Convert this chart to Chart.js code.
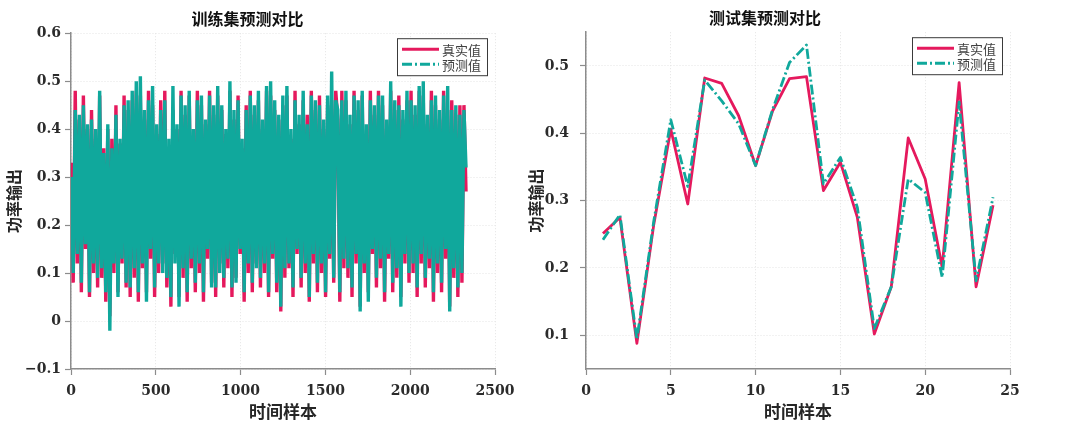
<!DOCTYPE html>
<html>
<head>
<meta charset="utf-8">
<script src="https://cdn.jsdelivr.net/npm/chart.js@4.4.1/dist/chart.umd.min.js"></script>
<style>
  html, body { margin: 0; padding: 0; background: #fff; }
  body { width: 1080px; height: 424px; position: relative; overflow: hidden; }
  canvas { position: absolute; top: 0; }
  #trainChart { left: 0; }
  #testChart { left: 520px; }
</style>
</head>
<body>
<canvas id="trainChart" width="540" height="424"></canvas>
<canvas id="testChart" width="560" height="424"></canvas>
<script>
/* ─── DATA ─── */
const SERIES_NAMES = ['真实值', '预测值'];

// training set, one value every 12 samples (1 … 2329)
const trainTrue = [
  0.33, 0.08, 0.48, 0.12, 0.42, 0.06, 0.47, 0.15, 0.40, 0.05, 0.44, 0.10, 0.38, 0.07, 0.47,
  0.09, 0.36, 0.04, 0.40, 0.01, 0.38, 0.10, 0.45, 0.06, 0.37, 0.12, 0.47, 0.07, 0.44, 0.05,
  0.46, 0.09, 0.48, 0.04, 0.47, 0.11, 0.42, 0.06, 0.48, 0.13, 0.45, 0.05, 0.39, 0.10, 0.46,
  0.12, 0.48, 0.07, 0.36, 0.03, 0.44, 0.14, 0.40, 0.05, 0.48, 0.09, 0.43, 0.04, 0.47, 0.11,
  0.38, 0.06, 0.48, 0.10, 0.45, 0.04, 0.41, 0.13, 0.48, 0.08, 0.43, 0.05, 0.47, 0.12, 0.44,
  0.07, 0.39, 0.11, 0.48, 0.05, 0.42, 0.09, 0.47, 0.14, 0.36, 0.04, 0.45, 0.10, 0.48, 0.06,
  0.43, 0.12, 0.46, 0.07, 0.40, 0.10, 0.48, 0.05, 0.47, 0.13, 0.44, 0.06, 0.42, 0.02, 0.45,
  0.09, 0.47, 0.11, 0.38, 0.05, 0.48, 0.14, 0.41, 0.07, 0.46, 0.10, 0.43, 0.04, 0.48, 0.12,
  0.44, 0.06, 0.47, 0.10, 0.40, 0.05, 0.45, 0.13, 0.46, 0.08, 0.48, 0.42, 0.04, 0.48, 0.11,
  0.46, 0.09, 0.41, 0.05, 0.48, 0.12, 0.44, 0.03, 0.47, 0.10, 0.39, 0.06, 0.48, 0.14, 0.43,
  0.07, 0.48, 0.11, 0.45, 0.04, 0.40, 0.13, 0.48, 0.06, 0.44, 0.09, 0.47, 0.05, 0.42, 0.12,
  0.46, 0.08, 0.48, 0.10, 0.43, 0.05, 0.48, 0.12, 0.47, 0.07, 0.41, 0.11, 0.48, 0.04, 0.45,
  0.10, 0.42, 0.06, 0.48, 0.13, 0.44, 0.03, 0.46, 0.09, 0.43, 0.05, 0.45, 0.08, 0.45, 0.27
];
const trainPred = [
  0.30, 0.10, 0.44, 0.14, 0.43, 0.08, 0.45, 0.16, 0.41, 0.06, 0.42, 0.12, 0.40, 0.09, 0.48,
  0.11, 0.35, 0.06, 0.41, -0.02, 0.36, 0.12, 0.43, 0.05, 0.38, 0.13, 0.45, 0.08, 0.46, 0.07,
  0.48, 0.11, 0.50, 0.06, 0.51, 0.12, 0.44, 0.04, 0.46, 0.15, 0.49, 0.07, 0.41, 0.12, 0.44,
  0.10, 0.46, 0.09, 0.38, 0.05, 0.49, 0.12, 0.41, 0.03, 0.47, 0.11, 0.45, 0.06, 0.48, 0.13,
  0.40, 0.08, 0.46, 0.12, 0.47, 0.06, 0.42, 0.15, 0.47, 0.07, 0.45, 0.07, 0.49, 0.10, 0.45,
  0.09, 0.40, 0.13, 0.50, 0.07, 0.44, 0.08, 0.46, 0.15, 0.38, 0.06, 0.44, 0.12, 0.47, 0.08,
  0.45, 0.11, 0.48, 0.09, 0.42, 0.12, 0.49, 0.06, 0.50, 0.14, 0.46, 0.08, 0.43, 0.03, 0.47,
  0.11, 0.49, 0.12, 0.40, 0.07, 0.46, 0.15, 0.43, 0.09, 0.48, 0.12, 0.41, 0.05, 0.47, 0.14,
  0.46, 0.08, 0.45, 0.12, 0.42, 0.06, 0.47, 0.14, 0.52, 0.09, 0.46, 0.44, 0.06, 0.46, 0.13,
  0.48, 0.11, 0.43, 0.07, 0.47, 0.14, 0.46, 0.02, 0.48, 0.12, 0.41, 0.04, 0.46, 0.15, 0.45,
  0.09, 0.47, 0.13, 0.47, 0.06, 0.42, 0.14, 0.50, 0.08, 0.46, 0.11, 0.45, 0.03, 0.44, 0.14,
  0.48, 0.10, 0.46, 0.12, 0.45, 0.07, 0.49, 0.14, 0.50, 0.09, 0.43, 0.13, 0.46, 0.06, 0.47,
  0.12, 0.44, 0.08, 0.47, 0.15, 0.49, 0.02, 0.44, 0.11, 0.45, 0.07, 0.43, 0.10, 0.44, 0.32
];
const trainStep = 12;

// test set, samples 1 … 24
const testIdx  = [1, 2, 3, 4, 5, 6, 7, 8, 9, 10, 11, 12, 13, 14, 15, 16, 17, 18, 19, 20, 21, 22, 23, 24];
const testTrue = [0.251, 0.275, 0.088, 0.265, 0.406, 0.295, 0.482, 0.474, 0.426, 0.352, 0.433, 0.481,
                  0.484, 0.315, 0.357, 0.275, 0.102, 0.172, 0.393, 0.332, 0.201, 0.475, 0.172, 0.293];
const testPred = [0.242, 0.279, 0.094, 0.270, 0.420, 0.321, 0.479, 0.448, 0.414, 0.352, 0.435, 0.505,
                  0.531, 0.325, 0.364, 0.290, 0.110, 0.172, 0.332, 0.312, 0.186, 0.446, 0.181, 0.305];

const trainXTicks = [0, 500, 1000, 1500, 2000, 2500];
const trainYTicks = [-0.1, 0, 0.1, 0.2, 0.3, 0.4, 0.5, 0.6];
const testXTicks  = [0, 5, 10, 15, 20, 25];
const testYTicks  = [0.1, 0.2, 0.3, 0.4, 0.5];

/* ─── STYLE ─── */
const RED = '#e5195d';
const TEAL = '#10a89c';
const DASHDOT = [10, 3, 2, 3];
const AXIS = '#8c8c8c';
const CJK = "'Noto Sans CJK SC', sans-serif";
const NUM = "'DejaVu Serif', serif";

/* ─── boxed legend, MATLAB style ─── */
const boxLegend = {
  id: 'boxLegend',
  afterDraw(chart) {
    const { ctx, chartArea } = chart;
    const w = 90, h = 37;
    const x = chartArea.right - 8 - w;
    const y = chartArea.top + 5;
    ctx.save();
    ctx.fillStyle = '#fff';
    ctx.fillRect(x, y, w, h);
    ctx.strokeStyle = '#3a3a3a';
    ctx.lineWidth = 1;
    ctx.strokeRect(x + 0.5, y + 0.5, w, h);
    chart.data.datasets.forEach((ds, i) => {
      const ly = y + 11 + i * 15;
      ctx.strokeStyle = ds.borderColor;
      ctx.lineWidth = 3;
      ctx.setLineDash(ds.legendDash || []);
      ctx.beginPath();
      ctx.moveTo(x + 5, ly);
      ctx.lineTo(x + 42, ly);
      ctx.stroke();
      ctx.setLineDash([]);
      ctx.fillStyle = '#404040';
      ctx.font = '13px ' + CJK;
      ctx.textAlign = 'left';
      ctx.textBaseline = 'middle';
      ctx.fillText(ds.label, x + 45, ly + 1);
    });
    ctx.restore();
  }
};

function fmtY(v) {
  const r = Math.round(v * 10) / 10;
  if (r === 0) return '0';
  return (r < 0 ? '\u2212' : '') + Math.abs(r).toFixed(1);
}
const fmtX = v => String(v);

function axes(o) {
  return {
    x: {
      type: 'linear', min: o.xMin, max: o.xMax,
      afterBuildTicks: s => { s.ticks = o.xTicks.map(v => ({ value: v })); },
      afterFit: s => { s.height = 55; },
      grid: { color: '#e4e4e4', lineWidth: 1, tickLength: 6, tickColor: AXIS, tickWidth: 1.2 },
      border: { color: AXIS, width: 1.5, dash: [1, 2] },
      ticks: { color: '#2b2b2b', font: { family: NUM, size: 14, weight: 'bold' }, padding: 8, maxRotation: 0, callback: fmtX },
      title: { display: true, text: '时间样本', color: '#262626', font: { family: CJK, size: 17, weight: 'bold' }, padding: { top: 0, bottom: 2 } }
    },
    y: {
      type: 'linear', min: o.yMin, max: o.yMax,
      afterBuildTicks: s => { s.ticks = o.yTicks.map(v => ({ value: v })); },
      afterFit: s => { s.width = o.yWidth; },
      grid: { color: '#e4e4e4', lineWidth: 1, tickLength: 6, tickColor: AXIS, tickWidth: 1.2 },
      border: { color: AXIS, width: 1.5, dash: [1, 2] },
      ticks: { color: '#2b2b2b', font: { family: NUM, size: 14, weight: 'bold' }, padding: o.yPad, callback: fmtY },
      title: { display: true, text: '功率输出', color: '#262626', font: { family: CJK, size: 16, weight: 'bold' }, padding: { top: o.yTitlePad, bottom: 0 } }
    }
  };
}

function makeChart(id, o) {
  return new Chart(document.getElementById(id), {
    type: 'line',
    data: {
      datasets: [
        { label: SERIES_NAMES[0], data: o.trueData, borderColor: RED, borderWidth: o.lw, order: 1, legendDash: [] },
        { label: SERIES_NAMES[1], data: o.predData, borderColor: TEAL, borderWidth: o.lw, borderDash: o.dash, order: 0, legendDash: DASHDOT }
      ]
    },
    options: {
      responsive: false,
      animation: false,
      parsing: false,
      normalized: true,
      elements: { point: { radius: 0 }, line: { tension: 0, borderJoinStyle: o.join } },
      layout: { padding: { left: 0, right: o.padRight, top: 0, bottom: 0 } },
      plugins: {
        legend: { display: false },
        tooltip: { enabled: false },
        title: {
          display: true, text: o.title, color: '#111',
          font: { family: CJK, size: 16, weight: 'bold' },
          padding: { top: o.titleTop, bottom: 5 }
        }
      },
      scales: axes(o)
    },
    plugins: [boxLegend]
  });
}

/* ─── INIT ─── */
const trainX = trainTrue.map((_, i) => 1 + i * trainStep);

makeChart('trainChart', {
  title: '训练集预测对比',
  trueData: trainTrue.map((v, i) => ({ x: trainX[i], y: v })),
  predData: trainPred.map((v, i) => ({ x: trainX[i], y: v })),
  xMin: 0, xMax: 2500, xTicks: trainXTicks,
  yMin: -0.1, yMax: 0.6, yTicks: trainYTicks,
  yWidth: 71, yPad: 4, yTitlePad: 4, padRight: 45, titleTop: 9,
  lw: 3.4, dash: [], join: 'bevel'
});

makeChart('testChart', {
  title: '测试集预测对比',
  trueData: testTrue.map((v, i) => ({ x: testIdx[i], y: v })),
  predData: testPred.map((v, i) => ({ x: testIdx[i], y: v })),
  xMin: 0, xMax: 25, xTicks: testXTicks,
  yMin: 0.05, yMax: 0.55, yTicks: testYTicks,
  yWidth: 66, yPad: 11, yTitlePad: 6, padRight: 70, titleTop: 8,
  lw: 2.8, dash: DASHDOT, join: 'round'
});
</script>
</body>
</html>
